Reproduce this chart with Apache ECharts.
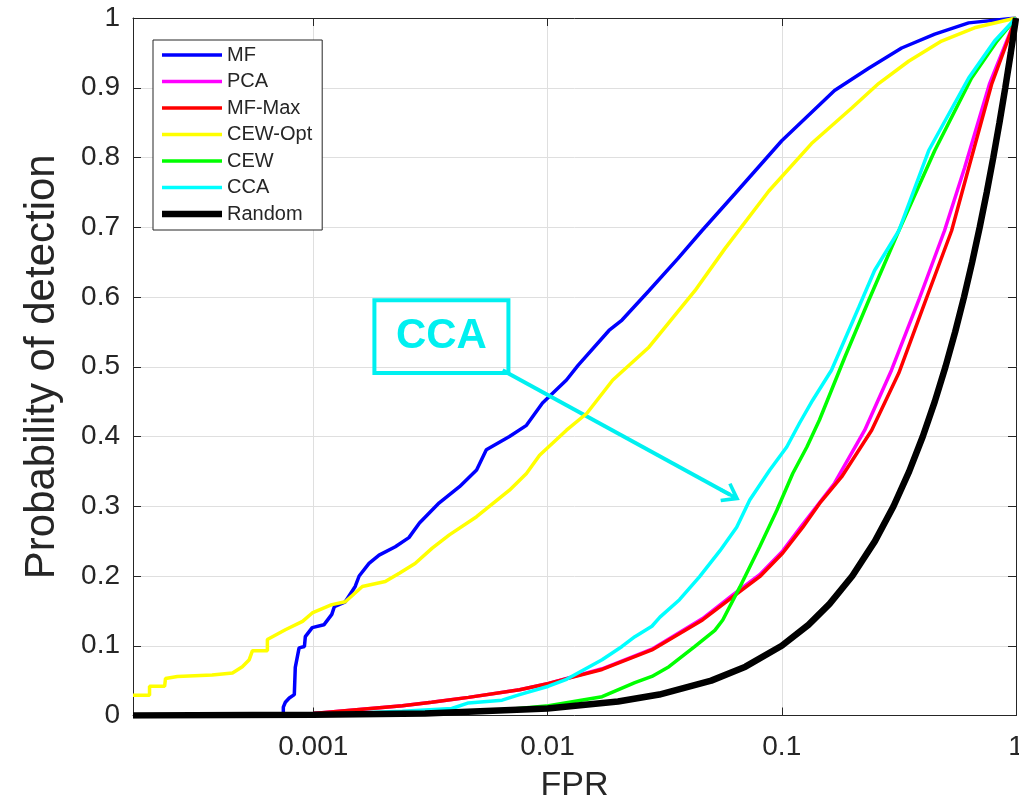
<!DOCTYPE html>
<html><head><meta charset="utf-8">
<script src="https://cdn.jsdelivr.net/npm/echarts@6/dist/echarts.min.js"></script>
<style>html,body{margin:0;padding:0;background:#fff}#c{width:1019px;height:804px}</style>
</head><body><div id="c"></div>
<script>
// ---- data (FPR, probability of detection) ----
const seriesNames = ['MF', 'PCA', 'MF-Max', 'CEW-Opt', 'CEW', 'CCA', 'Random'];
const seriesColors = ['#0000FF', '#FF00FF', '#FF0000', '#FFFF00', '#00FF00', '#00FFFF', '#000000'];

const mfData = [[0.00017,0],[0.000745,0],[0.000745,0.012],[0.00076,0.019],[0.00079,0.025],[0.00083,0.03],[0.000838,0.069],[0.00087,0.097],[0.000917,0.099],[0.000925,0.113],[0.00099,0.126],[0.00111,0.13],[0.0012,0.145],[0.00123,0.156],[0.00137,0.163],[0.00151,0.185],[0.00157,0.2],[0.00173,0.218],[0.00191,0.23],[0.00224,0.242],[0.00256,0.255],[0.00284,0.276],[0.00345,0.305],[0.00421,0.328],[0.00498,0.352],[0.00548,0.381],[0.00688,0.4],[0.00813,0.416],[0.00952,0.448],[0.01205,0.481],[0.0135,0.502],[0.0183,0.552],[0.0208,0.567],[0.0271,0.609],[0.036,0.655],[0.0456,0.695],[0.0631,0.748],[0.1,0.824],[0.168,0.896],[0.235,0.928],[0.325,0.957],[0.45,0.977],[0.628,0.993],[1,1]];

const pcaData = [[0.00017,0],[0.001,0.003],[0.0024,0.014],[0.0032,0.019],[0.0046,0.026],[0.0076,0.037],[0.0101,0.046],[0.0171,0.067],[0.0279,0.095],[0.0459,0.139],[0.0618,0.173],[0.0805,0.202],[0.101,0.236],[0.1216,0.272],[0.168,0.333],[0.226,0.409],[0.294,0.495],[0.384,0.595],[0.495,0.695],[0.603,0.785],[0.77,0.905],[1,1]];

const mfMaxData = [[0.00017,0],[0.001,0.003],[0.0024,0.014],[0.0032,0.019],[0.0046,0.026],[0.0076,0.037],[0.0101,0.046],[0.0171,0.066],[0.0279,0.094],[0.0459,0.137],[0.0618,0.170],[0.0805,0.199],[0.101,0.233],[0.123,0.27],[0.145,0.304],[0.18,0.342],[0.242,0.409],[0.316,0.491],[0.407,0.591],[0.531,0.695],[0.628,0.785],[0.787,0.905],[1,1]];

const cewOptData = [[0.00017,0.029],[0.0002,0.029],[0.0002,0.042],[0.000232,0.042],[0.000234,0.053],[0.000263,0.056],[0.00037,0.058],[0.000452,0.061],[0.000498,0.07],[0.000533,0.08],[0.00055,0.093],[0.000637,0.093],[0.000637,0.109],[0.00076,0.123],[0.0009,0.135],[0.00099,0.147],[0.0012,0.159],[0.00137,0.163],[0.00162,0.185],[0.00203,0.192],[0.00233,0.204],[0.00272,0.218],[0.00322,0.24],[0.00381,0.259],[0.00498,0.285],[0.00688,0.323],[0.00813,0.347],[0.00925,0.373],[0.01205,0.409],[0.0147,0.433],[0.019,0.481],[0.0271,0.528],[0.0426,0.609],[0.0571,0.669],[0.0881,0.752],[0.134,0.82],[0.199,0.871],[0.259,0.906],[0.348,0.938],[0.481,0.967],[0.665,0.986],[1,1]];

const cewData = [[0.00017,0],[0.001,0.0008],[0.0064,0.008],[0.0101,0.014],[0.0171,0.027],[0.0236,0.047],[0.0279,0.056],[0.033,0.07],[0.0426,0.099],[0.0518,0.122],[0.056,0.137],[0.0662,0.184],[0.0805,0.242],[0.0952,0.294],[0.1114,0.347],[0.128,0.385],[0.145,0.424],[0.186,0.514],[0.235,0.595],[0.316,0.695],[0.45,0.81],[0.646,0.914],[0.83,0.967],[1,1]];

const ccaData = [[0.00017,0],[0.001,0.001],[0.0024,0.006],[0.0039,0.01],[0.0046,0.018],[0.0064,0.022],[0.0076,0.03],[0.0101,0.042],[0.0119,0.051],[0.0171,0.08],[0.0208,0.099],[0.0236,0.113],[0.0279,0.128],[0.0302,0.141],[0.0366,0.166],[0.0446,0.199],[0.0544,0.236],[0.0642,0.27],[0.073,0.309],[0.0889,0.352],[0.105,0.385],[0.119,0.419],[0.1355,0.452],[0.163,0.495],[0.213,0.585],[0.249,0.638],[0.316,0.695],[0.424,0.81],[0.628,0.914],[0.81,0.967],[1,1]];

const randomData = [[0.00017,0.00017],[0.001,0.001],[0.003,0.003],[0.01,0.01],[0.02,0.02],[0.03,0.03],[0.05,0.05],[0.07,0.07],[0.1,0.1],[0.13,0.13],[0.16,0.16],[0.2,0.2],[0.25,0.25],[0.3,0.3],[0.35,0.35],[0.4,0.4],[0.45,0.45],[0.5,0.5],[0.55,0.55],[0.6,0.6],[0.65,0.65],[0.7,0.7],[0.75,0.75],[0.8,0.8],[0.85,0.85],[0.9,0.9],[0.95,0.95],[1,1]];

const allData = [mfData, pcaData, mfMaxData, cewOptData, cewData, ccaData, randomData];

// x range and tick labels
const xMin = 0.00017, xMax = 1;
const xTickLabels = ['0.001', '0.01', '0.1', '1'];
const yMin = 0, yMax = 1, yStep = 0.1;

// annotation (data coordinates)
const annotText = 'CCA';
const annotBox = [[0.001824, 0.5955], [0.00681, 0.491]];
const annotArrow = [[0.00643, 0.495], [0.0602, 0.3165]];

// ---- chart ----
const FONT = '"Liberation Sans", Helvetica, Arial, sans-serif';
const TXT = '#262626';
const AXC = '#262626';
const GRIDC = '#DFDFDF';
const ANN = '#00F0F0';

function fmtX(v) {
  const e = Math.log10(v);
  const r = Math.round(e);
  if (Math.abs(e - r) > 1e-6) return '';
  const lbl = r >= 0 ? String(Math.pow(10, r)) : Math.pow(10, r).toFixed(-r);
  return xTickLabels.indexOf(lbl) >= 0 ? lbl : '';
}

const baseX = {
  type: 'log', logBase: 10, min: xMin, max: xMax,
  axisLine: { show: true, onZero: false, lineStyle: { color: AXC, width: 1 } },
  axisTick: { show: true, inside: true, length: 8, lineStyle: { color: AXC } },
  minorTick: { show: false }
};
const baseY = {
  type: 'value', min: yMin, max: yMax, interval: yStep,
  axisLine: { show: true, onZero: false, lineStyle: { color: AXC, width: 1 } },
  axisTick: { show: true, inside: true, length: 8, lineStyle: { color: AXC } }
};

const series = seriesNames.map((n, i) => ({
  name: n, type: 'line', data: allData[i], symbol: 'none', showSymbol: false,
  xAxisIndex: 0, yAxisIndex: 0,
  lineStyle: { color: seriesColors[i], width: n === 'Random' ? 6.5 : 3.5 },
  itemStyle: { color: seriesColors[i] },
  emphasis: { disabled: true }, silent: true, z: 2 + i, clip: true
}));

series.push({
  name: 'annotation', type: 'line', data: [], xAxisIndex: 0, yAxisIndex: 0, z: 20, silent: true,
  markArea: {
    silent: true,
    itemStyle: { color: 'rgba(0,0,0,0)', borderColor: ANN, borderWidth: 4 },
    label: { show: true, position: 'inside', formatter: annotText, fontSize: 42, fontWeight: 'bold', color: ANN, fontFamily: FONT },
    emphasis: { disabled: true },
    data: [[{ coord: annotBox[0] }, { coord: annotBox[1] }]]
  },
  markLine: {
    silent: true, animation: false,
    symbol: ['none', 'path://M10,0 L20,14 L17.5,16 L11.5,8 L11.5,20 L8.5,20 L8.5,8 L2.5,16 L0,14 Z'],
    symbolSize: [22, 22],
    lineStyle: { color: ANN, width: 4, type: 'solid' },
    label: { show: false },
    emphasis: { disabled: true },
    data: [[{ coord: annotArrow[0] }, { coord: annotArrow[1] }]]
  }
});

const option = {
  animation: false,
  backgroundColor: '#fff',
  textStyle: { fontFamily: FONT },
  grid: { left: 133, right: 3, top: 18, bottom: 88.5, containLabel: false, outerBoundsMode: 'none' },
  legend: {
    orient: 'vertical', left: 153, top: 40,
    data: seriesNames.map(n => ({ name: n, icon: n === 'Random' ? 'path://M0,0h60v6.5h-60z' : 'path://M0,0h60v3.5h-60z' })),
    itemWidth: 60, itemHeight: 7, itemGap: 6.5, padding: [5, 10, 6, 9],
    backgroundColor: '#fff', borderColor: AXC, borderWidth: 1, borderRadius: 0,
    textStyle: { fontSize: 20, color: TXT, fontFamily: FONT, lineHeight: 20 },
    selectedMode: false
  },
  xAxis: [
    Object.assign({}, baseX, {
      position: 'bottom',
      axisLabel: { show: true, formatter: fmtX, fontSize: 28, color: TXT, margin: 18, fontFamily: FONT, showMinLabel: true, showMaxLabel: true },
      splitLine: { show: true, lineStyle: { color: GRIDC, width: 1 } },
      name: 'FPR', nameLocation: 'middle', nameGap: 53,
      nameTextStyle: { fontSize: 34, color: TXT, fontFamily: FONT }
    }),
    Object.assign({}, baseX, {
      position: 'top', axisLabel: { show: false }, splitLine: { show: false }
    })
  ],
  yAxis: [
    Object.assign({}, baseY, {
      position: 'left',
      axisLabel: { show: true, fontSize: 28, color: TXT, margin: 13, fontFamily: FONT },
      splitLine: { show: true, lineStyle: { color: GRIDC, width: 1 } },
      name: 'Probability of detection', nameLocation: 'middle', nameGap: 70,
      nameTextStyle: { fontSize: 42, color: TXT, fontFamily: FONT }
    }),
    Object.assign({}, baseY, {
      position: 'right', axisLabel: { show: false }, splitLine: { show: false }
    })
  ],
  series: series
};

const chart = echarts.init(document.getElementById('c'), null, { renderer: 'canvas' });
chart.setOption(option);
</script>
</body></html>
